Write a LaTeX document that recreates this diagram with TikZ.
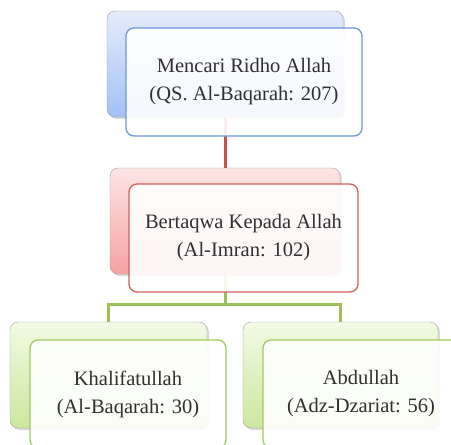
\documentclass[tikz,border=0pt]{standalone}
\usepackage{fontspec}
\setmainfont{Liberation Serif}
\usepackage{tikz}
\usetikzlibrary{shadows}

\definecolor{blueTop}{HTML}{E4ECFC}
\definecolor{blueBot}{HTML}{A3C0F4}
\definecolor{blueEdge}{HTML}{6E98D4}
\definecolor{redTop}{HTML}{FDE5E5}
\definecolor{redBot}{HTML}{F6A2A2}
\definecolor{redEdge}{HTML}{D0605E}
\definecolor{redLine}{HTML}{C8504D}
\definecolor{greenTop}{HTML}{F2FAE4}
\definecolor{greenBot}{HTML}{CBE79E}
\definecolor{greenEdge}{HTML}{A2CB5E}
\definecolor{greenLine}{HTML}{9BC259}
\definecolor{darkText}{HTML}{303030}

\begin{document}
\begin{tikzpicture}[
    x=1pt, y=1pt,
    backbox/.style={draw=gray!75, rounded corners=8pt, inner sep=0pt, minimum height=106pt,
        drop shadow={shadow xshift=2pt, shadow yshift=-2pt, opacity=0.3}},
    frontbox/.style={draw, line width=1.3pt, rounded corners=8pt, fill=white, fill opacity=0.9,
        text opacity=1, inner sep=0pt, minimum height=108pt, align=center, text=darkText,
        font=\fontsize{20.5}{28}\selectfont},
    link/.style={line width=3pt}
]
\useasboundingbox (0,0) rectangle (451,-445);

% back boxes
\node[backbox, top color=blueTop, bottom color=blueBot, minimum width=236pt] (ridhoBack) at (225,-64) {};
\node[backbox, top color=redTop, bottom color=redBot, minimum width=230pt] (taqwaBack) at (225,-221) {};
\node[backbox, top color=greenTop, bottom color=greenBot, minimum width=197pt] (khalifahBack) at (108.5,-375) {};
\node[backbox, top color=greenTop, bottom color=greenBot, minimum width=195pt] (abdBack) at (340.5,-375) {};

% connectors
\draw[link, redLine] (ridhoBack.south) -- (taqwaBack.north);
\draw[link, greenLine] (taqwaBack.south) -- ++(0,-30) coordinate (fork) -| (khalifahBack.north);
\draw[link, greenLine] (fork) -| (abdBack.north);

% front boxes
\node[frontbox, draw=blueEdge, minimum width=236pt] (ridho) at (244,-82) {Mencari Ridho Allah\\(QS. Al-Baqarah: 207)};
\node[frontbox, draw=redEdge, minimum width=229pt] (taqwa) at (243.5,-238) {Bertaqwa Kepada Allah\\(Al-Imran: 102)};
\node[frontbox, draw=greenEdge, minimum width=196pt] (khalifah) at (128,-394) {Khalifatullah\\(Al-Baqarah: 30)};
\node[frontbox, draw=greenEdge, minimum width=196pt] (abd) at (361,-394) {Abdullah\\(Adz-Dzariat: 56)};
\end{tikzpicture}
\end{document}
